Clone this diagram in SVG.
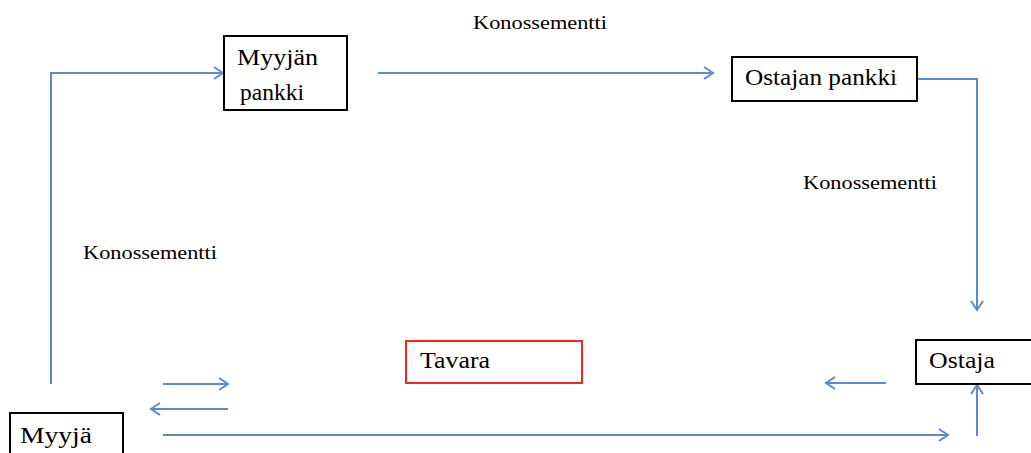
<svg xmlns="http://www.w3.org/2000/svg" width="1031" height="453" viewBox="0 0 1031 453">
<style>
.box{fill:#fff;stroke:#000;stroke-width:2}
.red{fill:#fff;stroke:#ff2020;stroke-width:2}
.t{font-family:"Liberation Serif","Times New Roman",serif;font-size:23px;fill:#000}
.lbl{font-family:"Liberation Serif","Times New Roman",serif;font-size:18px;fill:#000}
.c{fill:none;stroke:#5b8bcb;stroke-width:2}
</style>
<defs>
<marker id="ah" markerUnits="userSpaceOnUse" markerWidth="14" markerHeight="16" refX="11" refY="8" orient="auto">
<polyline points="2,2 11,8 2,14" fill="none" stroke="#5b8bcb" stroke-width="2"/>
</marker>
</defs>
<rect width="1031" height="453" fill="#fff"/>
<g id="connectors">
<polyline class="c" points="51,384 51,73 223,73" marker-end="url(#ah)"/>
<line class="c" x1="378" y1="73" x2="713" y2="73" marker-end="url(#ah)"/>
<polyline class="c" points="918,79 977,79 977,310" marker-end="url(#ah)"/>
<line class="c" x1="163" y1="384" x2="228" y2="384" marker-end="url(#ah)"/>
<line class="c" x1="228" y1="409" x2="151" y2="409" marker-end="url(#ah)"/>
<line class="c" x1="163" y1="435" x2="948" y2="435" marker-end="url(#ah)"/>
<line class="c" x1="886" y1="383" x2="826" y2="383" marker-end="url(#ah)"/>
<line class="c" x1="977" y1="436" x2="977" y2="385" marker-end="url(#ah)"/>
<text class="lbl" x="473" y="29" textLength="134" lengthAdjust="spacingAndGlyphs">Konossementti</text>
<text class="lbl" x="803" y="189" textLength="134" lengthAdjust="spacingAndGlyphs">Konossementti</text>
<text class="lbl" x="83" y="259" textLength="134" lengthAdjust="spacingAndGlyphs">Konossementti</text>
</g>
<g id="myyjan-pankki">
<rect class="box" x="224" y="36" width="123" height="74"/>
<text class="t" x="237" y="65" textLength="81" lengthAdjust="spacingAndGlyphs">Myyjän</text>
<text class="t" x="240" y="100" textLength="64" lengthAdjust="spacingAndGlyphs">pankki</text>
</g>
<g id="ostajan-pankki">
<rect class="box" x="732" y="57" width="185" height="44"/>
<text class="t" x="745" y="85" textLength="152" lengthAdjust="spacingAndGlyphs">Ostajan pankki</text>
</g>
<g id="ostaja">
<rect class="box" x="916" y="340" width="120" height="44"/>
<text class="t" x="929" y="368" textLength="66" lengthAdjust="spacingAndGlyphs">Ostaja</text>
</g>
<g id="tavara">
<rect class="red" x="406" y="341" width="176" height="42"/>
<text class="t" x="420" y="368" textLength="70" lengthAdjust="spacingAndGlyphs">Tavara</text>
</g>
<g id="myyja">
<rect class="box" x="10" y="413" width="113" height="45"/>
<text class="t" x="20" y="443" textLength="72" lengthAdjust="spacingAndGlyphs">Myyjä</text>
</g>
</svg>
